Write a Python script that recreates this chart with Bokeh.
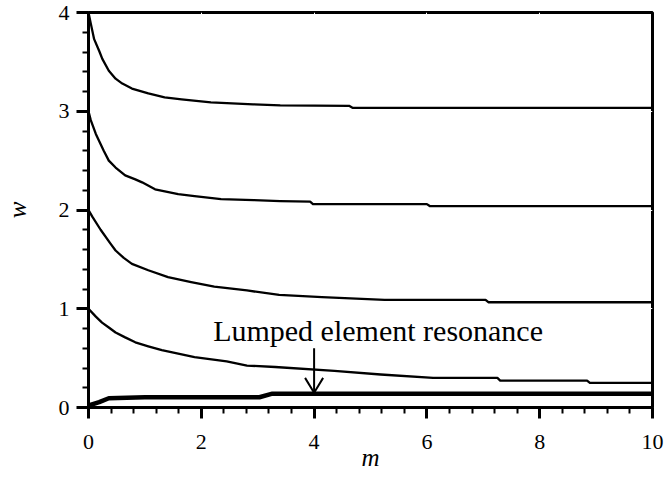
from bokeh.plotting import figure
from bokeh.models import Range1d, FixedTicker, Label, ColumnDataSource
from bokeh.embed import file_html
from bokeh.resources import INLINE

# Frequency branches w(m): four higher modes and the lumped-element branch
m1 = [0.0, 0.04, 0.10, 0.19, 0.245, 0.36, 0.48, 0.60, 0.77, 1.06, 1.35, 1.65, 2.17, 2.92, 3.40, 4.62, 4.68, 10.0]
w1 = [4.0, 3.89, 3.73, 3.61, 3.53, 3.41, 3.33, 3.28, 3.23, 3.18, 3.14, 3.12, 3.09, 3.07, 3.06, 3.055, 3.035, 3.035]

m2 = [0.0, 0.04, 0.13, 0.27, 0.36, 0.48, 0.65, 0.83, 0.95, 1.18, 1.59, 1.88, 2.35, 2.93, 3.40, 3.93, 3.98, 6.00, 6.05, 10.0]
w2 = [3.0, 2.91, 2.77, 2.60, 2.50, 2.43, 2.35, 2.31, 2.28, 2.21, 2.16, 2.14, 2.11, 2.10, 2.09, 2.085, 2.06, 2.06, 2.04, 2.04]

m3 = [0.0, 0.07, 0.215, 0.39, 0.48, 0.625, 0.77, 1.06, 1.41, 1.82, 2.23, 2.81, 3.38, 4.14, 5.25, 7.04, 7.09, 10.0]
w3 = [2.0, 1.93, 1.80, 1.66, 1.59, 1.515, 1.455, 1.39, 1.32, 1.27, 1.225, 1.185, 1.14, 1.117, 1.09, 1.09, 1.066, 1.066]

m4 = [0.0, 0.13, 0.24, 0.36, 0.48, 0.65, 0.83, 1.06, 1.30, 1.88, 2.45, 2.81, 3.31, 4.36, 5.18, 6.11, 7.25, 7.30, 8.84, 8.89, 10.0]
w4 = [1.0, 0.92, 0.86, 0.81, 0.76, 0.71, 0.66, 0.62, 0.58, 0.51, 0.466, 0.425, 0.41, 0.37, 0.334, 0.30, 0.30, 0.273, 0.273, 0.25, 0.25]

m_lumped = [0.0, 0.19, 0.36, 1.00, 1.06, 3.03, 3.26, 10.0]
w_lumped = [0.02, 0.054, 0.094, 0.104, 0.104, 0.104, 0.14, 0.14]

x_ticks = [0, 2, 4, 6, 8, 10]
x_minor = [i * 0.4 for i in range(26)]
y_ticks = [0, 1, 2, 3, 4]
y_minor = [i * 0.2 for i in range(21)]

note_text = "Lumped element resonance"
note_pos = (2.21, 0.78)
arrow_from = (4.0, 0.60)
arrow_to = (4.0, 0.15)
# half-width and height of the open arrow head, in data units
head_dx, head_dy = 0.16, 0.15

SERIF = "Liberation Serif"

# all strokes (branches and the pointer arrow) share one multi_line source
ax_, ay_ = arrow_to
lines = ColumnDataSource(data=dict(
    xs=[m1, m2, m3, m4, m_lumped,
        [arrow_from[0], ax_],
        [ax_ - head_dx, ax_, ax_ + head_dx]],
    ys=[w1, w2, w3, w4, w_lumped,
        [arrow_from[1], ay_],
        [ay_ + head_dy, ay_, ay_ + head_dy]],
    width=[2.3, 2.3, 2.3, 2.3, 4.5, 2.0, 2.0],
))

p = figure(width=664, height=493, output_backend="svg", toolbar_location=None,
           x_range=Range1d(0, 10), y_range=Range1d(0, 4),
           min_border_left=81, min_border_right=12, min_border_top=12,
           min_border_bottom=86)
p.grid.grid_line_color = "white"
p.grid.grid_line_width = 1
p.outline_line_color = "black"
p.outline_line_width = 3

p.axis.axis_line_width = 3
p.axis.axis_line_color = "black"
p.axis.major_tick_line_width = 3
p.axis.minor_tick_line_width = 2
p.axis.major_tick_line_color = "black"
p.axis.minor_tick_line_color = "black"
p.axis.major_tick_in = 0
p.axis.minor_tick_in = 0
p.axis.major_label_text_font = SERIF
p.axis.major_label_text_font_size = "22px"
p.axis.major_label_text_color = "black"
p.axis.axis_label_text_font = SERIF
p.axis.axis_label_text_font_style = "italic"
p.axis.axis_label_text_font_size = "25px"
p.axis.axis_label_text_color = "black"

p.xaxis.ticker = FixedTicker(ticks=x_ticks, minor_ticks=x_minor)
p.yaxis.ticker = FixedTicker(ticks=y_ticks, minor_ticks=y_minor)
p.xaxis.major_tick_out = 11
p.xaxis.minor_tick_out = 6
p.yaxis.major_tick_out = 12
p.yaxis.minor_tick_out = 6
p.xaxis.major_label_standoff = 16
p.yaxis.major_label_standoff = 7
p.xaxis.axis_label = "m"
p.yaxis.axis_label = "w"
p.xaxis.axis_label_standoff = -8
p.yaxis.axis_label_standoff = 25

p.multi_line(xs="xs", ys="ys", line_width="width", source=lines,
             line_color="black", line_join="round")

p.add_layout(Label(x=note_pos[0], y=note_pos[1], text=note_text,
                   text_font=SERIF, text_font_size="30px", text_color="black",
                   text_baseline="alphabetic"))

open("out.html", "w").write(file_html(p, INLINE))
